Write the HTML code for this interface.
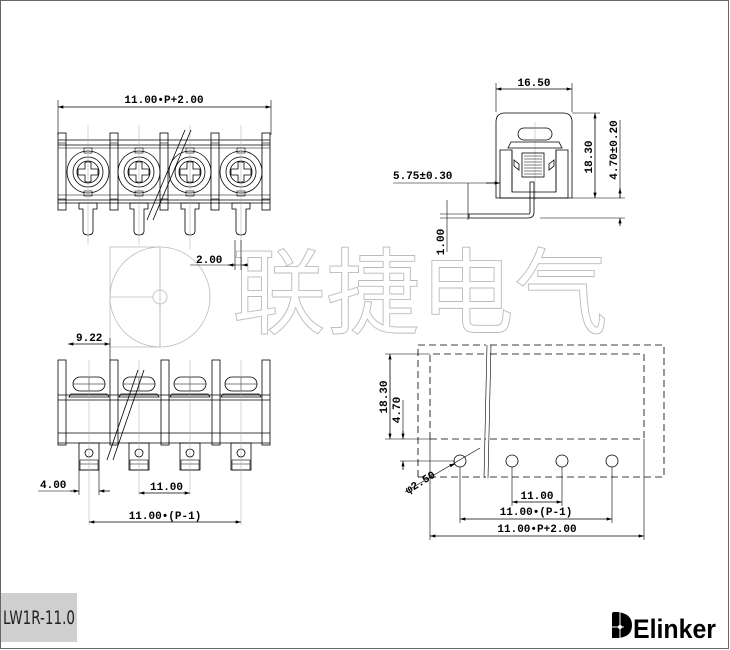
<!DOCTYPE html>
<html><head><meta charset="utf-8"><style>
html,body{margin:0;padding:0;background:#fff}
svg{display:block}
.d{font-family:"Liberation Mono",monospace;font-weight:bold;font-size:11px;fill:#000}
.l{stroke:#000;stroke-width:0.8;fill:none}
.t{stroke:#000;stroke-width:0.6;fill:none}
.c{stroke:#aaa;stroke-width:0.5;fill:none}
.ds{stroke:#000;stroke-width:0.8;fill:none;stroke-dasharray:7 4}
</style></head><body>
<svg width="730" height="650" viewBox="0 0 730 650" xmlns="http://www.w3.org/2000/svg">
<defs>
<marker id="a" viewBox="0 0 10 6" refX="10" refY="3" markerWidth="8" markerHeight="4" orient="auto-start-reverse"><path d="M0,0 L10,3 L0,6z" fill="#000"/></marker>
<g id="cell">
  <circle cx="0" cy="0" r="21" class="l"/>
  <circle cx="0" cy="0" r="15" class="l"/>
  <circle cx="0" cy="0" r="11" class="l"/>
  <path d="M-3,-10 h6 v7 h7 v6 h-7 v7 h-6 v-7 h-7 v-6 h7z" class="l"/>
  <rect x="-4" y="-24" width="8" height="5" class="t"/>
  <rect x="-4" y="19" width="8" height="5" class="t"/>
</g>
<g id="pin">
  <path d="M-9,0 h18 v6 h-4 v22 q0,4 -5,4 q-5,0 -5,-4 v-22 h-4z" class="l" fill="#fff"/>
</g>
<g id="post"><rect x="0" y="0" width="8" height="77" class="l" fill="#fff"/><line x1="0" y1="10" x2="8" y2="10" class="t"/><line x1="0" y1="66" x2="8" y2="66" class="t"/></g>
<g id="post2"><rect x="0" y="0" width="8" height="85" class="l" fill="#fff"/></g>
<g id="head"><rect x="-16" y="-7" width="32" height="14" rx="7" class="l" fill="#fff"/><line x1="-16" y1="0" x2="16" y2="0" class="t"/><line x1="0" y1="-7" x2="0" y2="7" class="t"/><path d="M-18,10 h36 l2,3 h-40z" class="l"/></g>
<g id="lug"><rect x="-10" y="0" width="20" height="27" class="l" fill="#fff"/><circle cx="0" cy="10" r="4" class="l"/><rect x="-9" y="17" width="18" height="10" class="t" fill="#ddd"/><line x1="-9" y1="21" x2="9" y2="21" class="t"/></g>
</defs>

<rect x="0.5" y="0.5" width="728" height="648" fill="none" stroke="#666" stroke-width="1"/>

<!-- watermark -->
<g stroke="#bbb" stroke-width="0.8" fill="none">
  <circle cx="160" cy="297" r="50"/>
  <circle cx="160" cy="297" r="7"/>
  <line x1="160" y1="247" x2="160" y2="290"/><line x1="160" y1="304" x2="160" y2="347"/>
  <line x1="110" y1="297" x2="153" y2="297"/>
  <rect x="110" y="247" width="50" height="100"/>
</g>
<text x="232" y="326" font-family="'Noto Sans CJK SC',sans-serif" font-size="94" fill="#fff" stroke="#bbb" stroke-width="0.9">联捷电气</text>

<!-- Top-left view -->
<line x1="58" y1="107" x2="271" y2="107" class="l" marker-start="url(#a)" marker-end="url(#a)"/>
<line x1="58" y1="100" x2="58" y2="135" class="t"/><line x1="271" y1="100" x2="271" y2="135" class="t"/>
<text x="164" y="103" class="d" text-anchor="middle">11.00•P+2.00</text>
<g>
  <line x1="58" y1="140" x2="270" y2="140" class="l"/><line x1="58" y1="145" x2="270" y2="145" class="l"/><line x1="58" y1="148" x2="270" y2="148" class="t"/>
  <line x1="58" y1="195" x2="270" y2="195" class="t"/><line x1="58" y1="200" x2="270" y2="200" class="l"/><line x1="58" y1="203" x2="270" y2="203" class="l"/>
  <use href="#cell" x="88" y="172"/><use href="#cell" x="139" y="172"/><use href="#cell" x="190" y="172"/><use href="#cell" x="241" y="172"/>
  <use href="#pin" x="88" y="203"/><use href="#pin" x="139" y="203"/><use href="#pin" x="190" y="203"/><use href="#pin" x="241" y="203"/>
  <use href="#post" x="58" y="133"/><use href="#post" x="110" y="133"/><use href="#post" x="160" y="133"/><use href="#post" x="211" y="133"/><use href="#post" x="262" y="133"/>
  <line x1="88" y1="125" x2="88" y2="245" class="c"/><line x1="139" y1="125" x2="139" y2="245" class="c"/><line x1="190" y1="125" x2="190" y2="250" class="c"/><line x1="241" y1="125" x2="241" y2="250" class="c"/>
  <line x1="185" y1="130" x2="147" y2="220" class="l"/><line x1="191" y1="130" x2="153" y2="220" class="l"/>
</g>
<text x="196" y="263" class="d">2.00</text>
<line x1="190" y1="265" x2="245" y2="265" class="t"/>
<line x1="228" y1="265" x2="235" y2="265" class="l" marker-start="url(#a)"/><line x1="242" y1="265" x2="248" y2="265" class="l" marker-start="url(#a)"/>
<line x1="235" y1="240" x2="235" y2="270" class="t"/><line x1="241" y1="240" x2="241" y2="270" class="t"/>

<!-- Top-right view -->
<line x1="496" y1="89" x2="572" y2="89" class="l" marker-start="url(#a)" marker-end="url(#a)"/>
<line x1="496" y1="83" x2="496" y2="112" class="t"/><line x1="572" y1="83" x2="572" y2="112" class="t"/>
<text x="534" y="86" class="d" text-anchor="middle">16.50</text>
<path d="M496,198 V122 Q496,113 505,113 H563 Q572,113 572,122 V198 Z" class="l"/>
<rect x="518" y="128" width="34" height="12" rx="6" class="l"/><line x1="535" y1="122" x2="535" y2="200" class="c"/>
<path d="M511,142 h48 l3,6 h-54z" class="l"/>
<path d="M500,150 h12 v42 h44 v-42 h12 v48 h-68z" class="l" fill="#ddd"/>
<path d="M512,150 v42 M556,150 v42" class="t"/>
<rect x="522" y="153" width="22" height="24" class="l"/>
<path d="M524,156 h18 M524,159 h18 M524,162 h18 M524,165 h18 M524,168 h18 M524,171 h18 M524,174 h18" class="t"/>
<path d="M514,160 l5,4 v6 l-5,-4z M554,160 l-5,4 v6 l5,-4z" class="l"/>
<path d="M534,182 v30 q0,6 -6,6 H469 v-4 H529 q1,0 1,-2 V182z" class="l" fill="#fff"/>
<line x1="572" y1="113" x2="600" y2="113" class="t"/><line x1="572" y1="198" x2="625" y2="198" class="t"/><line x1="540" y1="218" x2="625" y2="218" class="t"/>
<line x1="595" y1="113" x2="595" y2="198" class="l" marker-start="url(#a)" marker-end="url(#a)"/>
<text transform="translate(592,157) rotate(-90)" class="d" text-anchor="middle">18.30</text>
<line x1="620" y1="120" x2="620" y2="198" class="t"/><line x1="620" y1="198" x2="620" y2="188" class="l" marker-end="url(#a)"/><line x1="620" y1="218" x2="620" y2="226" class="l" marker-start="url(#a)"/>
<text transform="translate(617,150) rotate(-90)" class="d" text-anchor="middle">4.70±0.20</text>
<text x="393" y="179" class="d">5.75±0.30</text>
<line x1="393" y1="183" x2="500" y2="183" class="t"/><line x1="486" y1="183" x2="500" y2="183" class="l" marker-end="url(#a)"/>
<line x1="468" y1="183" x2="468" y2="220" class="t"/>
<line x1="447" y1="200" x2="447" y2="252" class="t"/><line x1="440" y1="214" x2="469" y2="214" class="t"/><line x1="440" y1="218" x2="469" y2="218" class="t"/>
<text transform="translate(444,242) rotate(-90)" class="d" text-anchor="middle">1.00</text>

<!-- Bottom-left view -->
<text x="76" y="341" class="d">9.22</text>
<line x1="68" y1="344" x2="110" y2="344" class="l" marker-start="url(#a)" marker-end="url(#a)"/>
<line x1="110" y1="338" x2="110" y2="360" class="t"/>
<line x1="58" y1="395" x2="270" y2="395" class="l"/><line x1="58" y1="400" x2="270" y2="400" class="l"/>
<line x1="58" y1="433" x2="270" y2="433" class="l"/><line x1="58" y1="443" x2="270" y2="443" class="l"/>
<use href="#head" x="89" y="384"/><use href="#head" x="139" y="384"/><use href="#head" x="190" y="384"/><use href="#head" x="241" y="384"/>
<use href="#post2" x="58" y="360"/><use href="#post2" x="110" y="360"/><use href="#post2" x="161" y="360"/><use href="#post2" x="212" y="360"/><use href="#post2" x="262" y="360"/>
<use href="#lug" x="89" y="443"/><use href="#lug" x="139" y="443"/><use href="#lug" x="190" y="443"/><use href="#lug" x="241" y="443"/>
<line x1="89" y1="360" x2="89" y2="525" class="c"/><line x1="139" y1="360" x2="139" y2="495" class="c"/><line x1="190" y1="360" x2="190" y2="495" class="c"/><line x1="241" y1="360" x2="241" y2="525" class="c"/>
<line x1="138" y1="370" x2="107" y2="460" class="l"/><line x1="144" y1="370" x2="113" y2="460" class="l"/>
<text x="40" y="488" class="d">4.00</text>
<line x1="38" y1="491" x2="79" y2="491" class="t"/><line x1="70" y1="491" x2="79" y2="491" class="l" marker-end="url(#a)"/><line x1="99" y1="491" x2="110" y2="491" class="l" marker-start="url(#a)"/>
<line x1="79" y1="470" x2="79" y2="495" class="t"/><line x1="99" y1="470" x2="99" y2="495" class="t"/>
<text x="150" y="490" class="d">11.00</text>
<line x1="139" y1="493" x2="190" y2="493" class="l" marker-start="url(#a)" marker-end="url(#a)"/>
<text x="165" y="519" class="d" text-anchor="middle">11.00•(P-1)</text>
<line x1="89" y1="522" x2="241" y2="522" class="l" marker-start="url(#a)" marker-end="url(#a)"/>

<!-- Bottom-right view -->
<path d="M418,477 V345 H486 M490,345 H664 V477 M418,477 H486 M490,477 H664" class="ds"/>
<path d="M430,439 V354 H486 M490,354 H644 V439 M430,439 H486 M490,439 H644" class="ds"/>
<path d="M487,345 L484,478 M491,345 L488,478" class="t"/>
<circle cx="460" cy="461" r="6" class="l"/><circle cx="512" cy="461" r="6" class="l"/><circle cx="562" cy="461" r="6" class="l"/><circle cx="612" cy="461" r="6" class="l"/>
<line x1="385" y1="354" x2="430" y2="354" class="t"/><line x1="385" y1="439" x2="430" y2="439" class="t"/><line x1="400" y1="461" x2="455" y2="461" class="t"/>
<line x1="390" y1="354" x2="390" y2="439" class="l" marker-start="url(#a)" marker-end="url(#a)"/>
<text transform="translate(387,397) rotate(-90)" class="d" text-anchor="middle">18.30</text>
<line x1="403" y1="400" x2="403" y2="439" class="t"/><line x1="403" y1="431" x2="403" y2="439" class="l" marker-end="url(#a)"/><line x1="403" y1="461" x2="403" y2="470" class="l" marker-start="url(#a)"/>
<text transform="translate(400,410) rotate(-90)" class="d" text-anchor="middle">4.70</text>
<line x1="405" y1="492" x2="480" y2="448" class="t"/><line x1="452" y1="465" x2="455" y2="464" class="l" marker-end="url(#a)"/>
<text transform="translate(408,494) rotate(-32)" class="d">φ2.50</text>
<line x1="460" y1="467" x2="460" y2="523" class="t"/><line x1="512" y1="467" x2="512" y2="506" class="t"/><line x1="562" y1="467" x2="562" y2="506" class="t"/><line x1="612" y1="467" x2="612" y2="523" class="t"/>
<line x1="430" y1="439" x2="430" y2="540" class="t"/><line x1="644" y1="439" x2="644" y2="540" class="t"/>
<text x="537" y="499" class="d" text-anchor="middle">11.00</text>
<line x1="512" y1="502" x2="562" y2="502" class="l" marker-start="url(#a)" marker-end="url(#a)"/>
<text x="536" y="515" class="d" text-anchor="middle">11.00•(P-1)</text>
<line x1="460" y1="519" x2="612" y2="519" class="l" marker-start="url(#a)" marker-end="url(#a)"/>
<text x="537" y="532" class="d" text-anchor="middle">11.00•P+2.00</text>
<line x1="430" y1="536" x2="644" y2="536" class="l" marker-start="url(#a)" marker-end="url(#a)"/>

<!-- footer -->
<rect x="1" y="593" width="76" height="49" fill="#cfcfcf"/>
<text x="3" y="624" font-family="'DejaVu Sans','Liberation Sans',sans-serif" font-size="19" fill="#222" textLength="72" lengthAdjust="spacingAndGlyphs">LW1R-11.0</text>
<g>
  <path d="M612,638 V614 Q612,612 614,612 H618 Q632,614 632,625 Q632,637 618,638Z" fill="#000"/>
  <circle cx="620" cy="627" r="2" fill="#fff"/><line x1="612" y1="627" x2="624" y2="627" stroke="#fff" stroke-width="1"/><line x1="620" y1="612" x2="620" y2="638" stroke="#fff" stroke-width="1"/>
  <text x="633" y="638" font-family="'Liberation Sans',sans-serif" font-weight="bold" font-size="27" fill="#000" textLength="83" lengthAdjust="spacingAndGlyphs">Elinker</text>
</g>
</svg>
</body></html>
